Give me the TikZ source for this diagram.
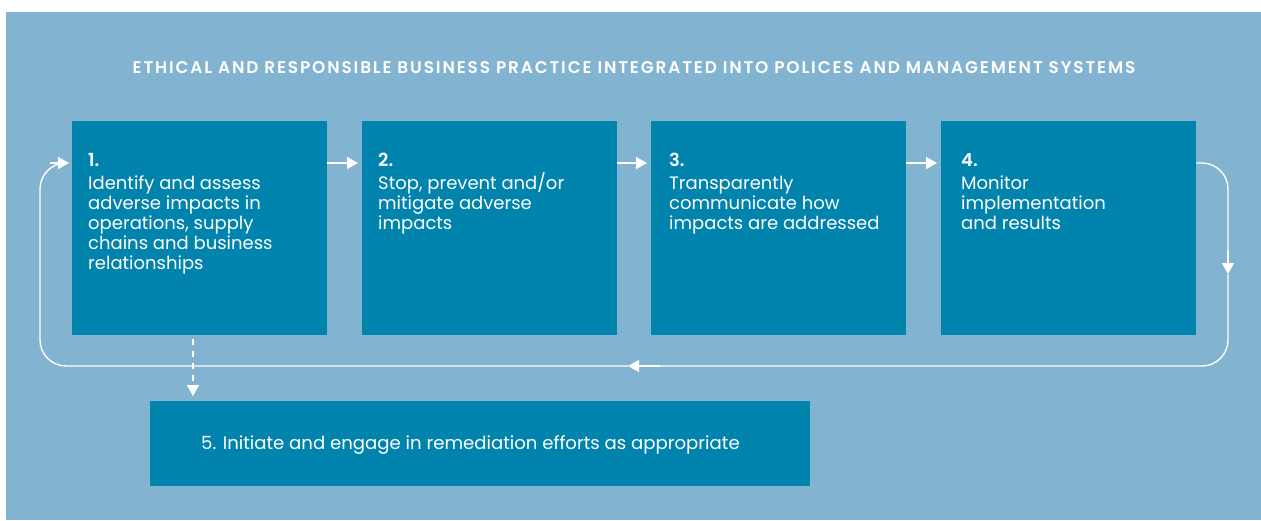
\documentclass[tikz,border=0pt]{standalone}
\usepackage{fontspec}
\setmainfont{Poppins}[BoldFont={Poppins SemiBold}]
\newfontfamily\titlefont{Poppins SemiBold}[LetterSpace=11]
\usetikzlibrary{arrows.meta,calc}
\definecolor{bgblue}{HTML}{82B3D0}
\definecolor{boxteal}{HTML}{0083AD}
\tikzset{
  stepbox/.style={fill=boxteal, draw=none, minimum width=255pt, minimum height=214pt, inner sep=0pt, anchor=north west},
  steptext/.style={text=white, anchor=north west, inner sep=0pt, align=left, font=\fontsize{18}{20}\selectfont},
  flow/.style={draw=white, line width=1.4pt, -{Triangle[width=12pt,length=11pt]}},
  loopline/.style={draw=white, line width=1.4pt, rounded corners=26pt}
}
\begin{document}
\begin{tikzpicture}[x=1pt,y=-1pt]
\useasboundingbox (0,0) rectangle (1261,520);
\fill[bgblue] (6,12) rectangle (1261,520);
\node[text=white, font=\fontsize{16.9}{18}\titlefont] (title) at (634,68) {ETHICAL AND RESPONSIBLE BUSINESS PRACTICE INTEGRATED INTO POLICES AND MANAGEMENT SYSTEMS};
\node[stepbox] (b1) at (72,121) {};
\node[stepbox] (b2) at (362,121) {};
\node[stepbox] (b3) at (651,121) {};
\node[stepbox] (b4) at (941,121) {};
\node[fill=boxteal, minimum width=660pt, minimum height=85pt, inner sep=0pt, anchor=north west] (b5) at (150,401) {};
\node[steptext] (t1) at (88,153) {\textbf{1.}\\[3pt]Identify and assess\\adverse impacts in\\operations, supply\\chains and business\\relationships};
\node[steptext] (t2) at (378,153) {\textbf{2.}\\[3pt]Stop, prevent and/or\\mitigate adverse\\impacts};
\node[steptext] (t3) at (669,153) {\textbf{3.}\\[3pt]Transparently\\communicate how\\impacts are addressed};
\node[steptext] (t4) at (961,153) {\textbf{4.}\\[3pt]Monitor\\implementation\\and results};
\node[text=white, anchor=west, inner sep=0pt, font=\fontsize{18.1}{20}\selectfont] (t5) at (201,445) {5. Initiate and engage in remediation efforts as appropriate};
\coordinate (b1e) at ($(b1.north east)+(0,42)$);
\coordinate (b2w) at ($(b2.north west)+(-4,42)$);
\coordinate (b2e) at ($(b2.north east)+(0,42)$);
\coordinate (b3w) at ($(b3.north west)+(-4,42)$);
\coordinate (b3e) at ($(b3.north east)+(0,42)$);
\coordinate (b4w) at ($(b4.north west)+(-4,42)$);
\coordinate (b4e) at ($(b4.north east)+(0,42)$);
\coordinate (b1w) at ($(b1.north west)+(-3,42)$);
\coordinate (downarr) at (1228,274);
\coordinate (leftarr) at (628,366);
\draw[flow] (b1e) -- (b2w);
\draw[flow] (b2e) -- (b3w);
\draw[flow] (b3e) -- (b4w);
\draw[loopline] (b4e) -- (1228,163) -- (1228,262);
\draw[flow] (1228,250) -- (downarr);
\draw[loopline] (downarr) -- (1228,366) -- (640,366);
\draw[flow] (660,366) -- (leftarr);
\draw[loopline] (leftarr) -- (40,366) -- (40,163) -- (56,163);
\draw[flow] (50,163) -- (b1w);
\draw[draw=white, line width=1.4pt, dash pattern=on 6pt off 6pt, -{Triangle[width=12pt,length=11pt]}] ($(b1.south west)+(121,4)$) coordinate (d1) -- ($(b5.north west)+(43,-5)$) coordinate (d2);
\end{tikzpicture}
\end{document}
